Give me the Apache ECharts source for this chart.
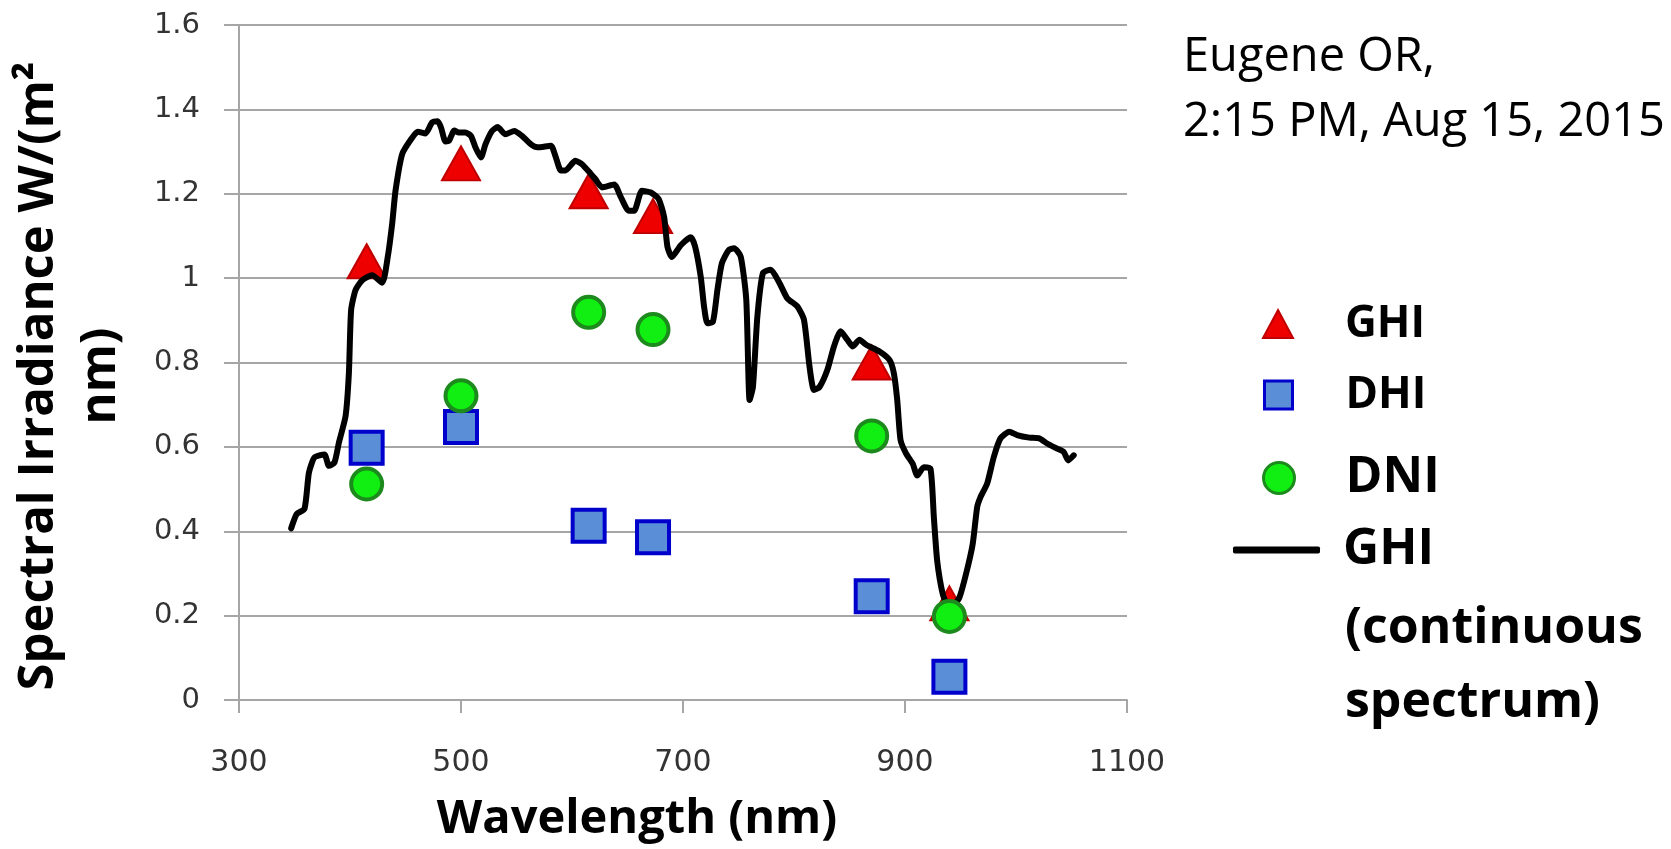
<!DOCTYPE html>
<html>
<head>
<meta charset="utf-8">
<script src="https://cdn.jsdelivr.net/npm/echarts@6/dist/echarts.min.js"></script>
<style>
html,body{margin:0;padding:0;background:#fff;}
#chart{width:1671px;height:849px;}
</style>
</head>
<body>
<div id="chart"></div>
<script>
// ---- data ----
const channelNm = [415, 500, 615, 673, 870, 940];
const ghiValues = [1.040, 1.272, 1.206, 1.147, 0.800, 0.229];
const dhiValues = [0.598, 0.647, 0.413, 0.386, 0.246, 0.055];
const dniValues = [0.512, 0.721, 0.919, 0.878, 0.626, 0.198];

const spectrumNm = [347,352,359,363,368,377,381,386,390,396,399,401,405,411,420,429,434,438,441,447,455,461,468,474,479,482,486,489,494,498,504,509,513,518,522,528,533,540,548,555,563,569,581,585,590,594,603,609,617,621,627,638,644,651,656,663,671,678,683,686,690,698,707,711,716,719,722,727,731,735,741,746,752,757,760,763,767,772,779,787,794,803,809,814,818,823,830,836,842,848,853,859,865,877,886,890,893,896,901,907,911,917,923,926,929,934,938,943,949,955,961,965,968,974,980,986,994,1001,1012,1021,1028,1037,1043,1047,1052];
const spectrumGhi = [0.407,0.441,0.453,0.539,0.575,0.582,0.555,0.563,0.610,0.673,0.775,0.924,0.972,0.995,1.007,0.989,1.050,1.129,1.207,1.294,1.329,1.347,1.343,1.369,1.372,1.357,1.324,1.325,1.350,1.345,1.345,1.337,1.310,1.286,1.317,1.349,1.358,1.341,1.349,1.337,1.317,1.310,1.314,1.290,1.255,1.255,1.278,1.270,1.247,1.235,1.215,1.222,1.192,1.160,1.160,1.207,1.203,1.188,1.145,1.074,1.050,1.078,1.097,1.074,1.003,0.932,0.893,0.897,0.972,1.035,1.066,1.071,1.051,0.949,0.711,0.742,0.909,1.012,1.020,0.988,0.952,0.933,0.901,0.790,0.735,0.742,0.782,0.838,0.874,0.854,0.838,0.854,0.842,0.826,0.806,0.774,0.711,0.616,0.584,0.560,0.532,0.552,0.548,0.433,0.330,0.251,0.227,0.223,0.243,0.299,0.370,0.457,0.481,0.513,0.576,0.620,0.636,0.628,0.622,0.620,0.608,0.596,0.588,0.568,0.580];

const xMin = 300, xMax = 1100, xStep = 200;
const yMin = 0, yMax = 1.6, yStep = 0.2;

const seriesNames = ['GHI', 'DHI', 'DNI', 'GHI (continuous spectrum)'];
const legendLabels = ['GHI', 'DHI', 'DNI', 'GHI'];
const legendExtraLines = ['(continuous', 'spectrum)'];
const annotationLines = ['Eugene OR,', '2:15 PM, Aug 15, 2015'];
const xTitle = 'Wavelength (nm)';
const yTitleLines = ['Spectral Irradiance W/(m\u00B2', 'nm)'];

// ---- build ----
const pairs = (xs, ys) => xs.map((x, i) => [x, ys[i]]);

const chart = echarts.init(document.getElementById('chart'), null, {renderer: 'canvas'});
const gridColor = '#a6a6a6';
const legendFont = 'Open Sans';

function makeLegend(idx, opts) {
  const lh = 52;
  return {
    orient: 'vertical', padding: 0,
    left: opts.left, top: opts.center - lh / 2,
    itemWidth: opts.w, itemHeight: opts.h, itemGap: 0,
    selectedMode: false,
    data: [opts.icon ? {name: seriesNames[idx], icon: opts.icon} : seriesNames[idx]],
    formatter: () => legendLabels[idx],
    itemStyle: opts.itemStyle || {},
    textStyle: {fontSize: opts.fs, fontWeight: 'bold', fontFamily: legendFont, color: '#000',
                lineHeight: lh, padding: [0, 0, 0, opts.pad]}
  };
}

const option = {
  backgroundColor: '#ffffff',
  animation: false,
  grid: {left: 239, right: 544, top: 25, bottom: 149, containLabel: false},
  xAxis: {
    type: 'value', min: xMin, max: xMax, interval: xStep,
    axisLine: {show: true, lineStyle: {color: gridColor, width: 2}},
    axisTick: {show: true, inside: false, length: 13, lineStyle: {color: gridColor, width: 2}},
    splitLine: {show: false},
    axisLabel: {margin: 63, color: '#333', fontSize: 30, fontFamily: 'DejaVu Sans', verticalAlign: 'middle',
                formatter: v => String(v)}
  },
  yAxis: {
    type: 'value', min: yMin, max: yMax, interval: yStep,
    axisLine: {show: true, lineStyle: {color: gridColor, width: 2}},
    axisTick: {show: true, inside: false, length: 15, lineStyle: {color: gridColor, width: 2}},
    splitLine: {show: true, lineStyle: {color: gridColor, width: 2}},
    axisLabel: {margin: 39, color: '#333', fontSize: 29, fontFamily: 'DejaVu Sans'}
  },
  legend: [
    makeLegend(0, {left: 1262, center: 324, w: 30, h: 28, fs: 44, pad: 47}),
    makeLegend(1, {left: 1263, center: 395, w: 28, h: 28, fs: 44, pad: 48, itemStyle: {borderWidth: 3}}),
    makeLegend(2, {left: 1262, center: 478, w: 31, h: 31, fs: 50, pad: 46, itemStyle: {borderWidth: 3}}),
    makeLegend(3, {left: 1233, center: 550, w: 87, h: 7, fs: 50, pad: 18, icon: 'roundRect'})
  ],
  graphic: [
    {type: 'text', left: 1183, top: 25, z: 10,
     style: {text: annotationLines.join('\n'), fontSize: 47, fontFamily: 'Open Sans', fill: '#000', lineHeight: 65}},
    {type: 'text', left: 1345, top: 629 - 37, z: 10,
     style: {text: legendExtraLines.join('\n'), fontSize: 50, fontWeight: 'bold', fontFamily: legendFont, fill: '#000', lineHeight: 74}},
    {type: 'text', x: 637, y: 820, z: 10,
     style: {text: xTitle, fontSize: 47, fontWeight: 'bold', fontFamily: 'Open Sans', fill: '#000', align: 'center', verticalAlign: 'middle'}},
    {type: 'text', x: 70, y: 376, rotation: Math.PI / 2, z: 10,
     style: {text: yTitleLines.join('\n'), fontSize: 49, fontWeight: 'bold', fontFamily: 'Open Sans', fill: '#000', align: 'center', verticalAlign: 'middle', lineHeight: 62}}
  ],
  series: [
    {name: seriesNames[0], type: 'scatter', z: 2, data: pairs(channelNm, ghiValues),
     symbol: 'triangle', symbolSize: [38, 34],
     itemStyle: {color: '#ee0000', borderColor: '#c00000', borderWidth: 2, opacity: 1}},
    {name: seriesNames[3], type: 'line', z: 3, data: pairs(spectrumNm, spectrumGhi),
     symbol: 'none', smooth: 0.2,
     lineStyle: {color: '#000', width: 6, join: 'round', cap: 'round'},
     itemStyle: {color: '#000'}},
    {name: seriesNames[1], type: 'scatter', z: 4, data: pairs(channelNm, dhiValues),
     symbol: 'rect', symbolSize: 32,
     itemStyle: {color: '#5a8fd8', borderColor: '#0000cc', borderWidth: 4, opacity: 1}},
    {name: seriesNames[2], type: 'scatter', z: 5, data: pairs(channelNm, dniValues),
     symbol: 'circle', symbolSize: 31,
     itemStyle: {color: '#11ee11', borderColor: '#1c8a1c', borderWidth: 4, opacity: 1}}
  ]
};
chart.setOption(option);
</script>
</body>
</html>
